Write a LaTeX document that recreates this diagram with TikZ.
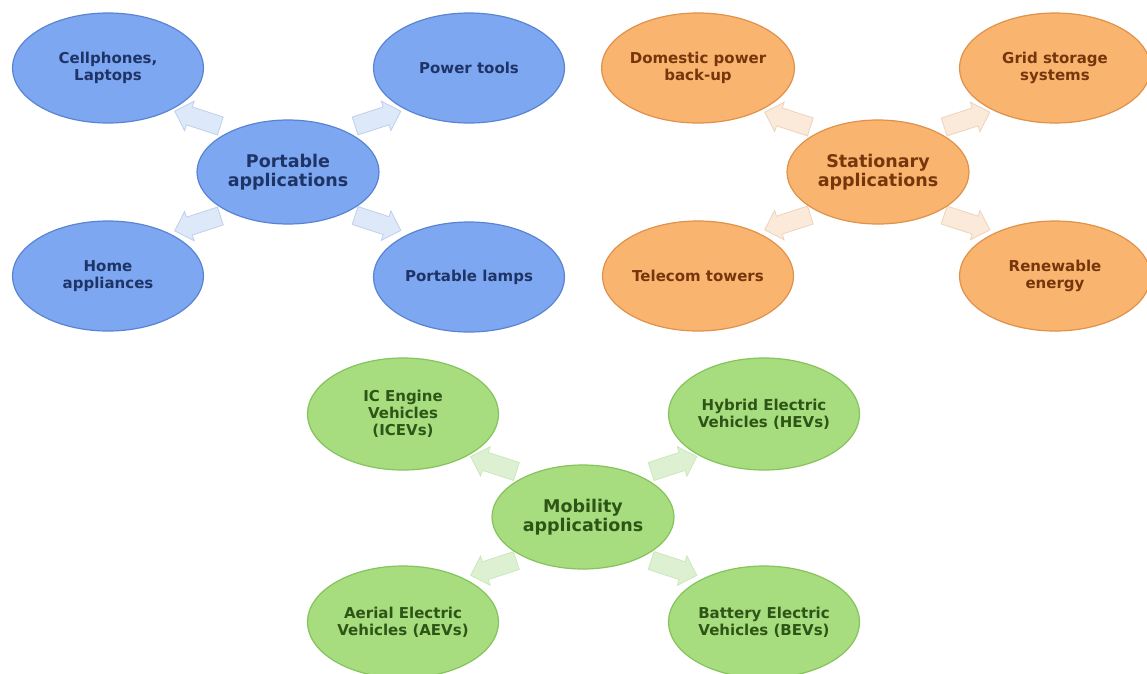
\documentclass[tikz,border=0pt]{standalone}
\usepackage{fontspec}
\setmainfont{DejaVu Sans}
\usetikzlibrary{shapes.geometric,shapes.arrows,calc}
\pgfdeclarelayer{bg}
\pgfsetlayers{bg,main}
\definecolor{bfill}{HTML}{7EA7F1}
\definecolor{bdraw}{HTML}{5A84D2}
\definecolor{btext}{HTML}{1E3466}
\definecolor{barr}{HTML}{DDE8F8}
\definecolor{barrd}{HTML}{BDD0EE}
\definecolor{ofill}{HTML}{F9B46F}
\definecolor{odraw}{HTML}{E0914A}
\definecolor{otext}{HTML}{76350A}
\definecolor{oarr}{HTML}{FBEADA}
\definecolor{oarrd}{HTML}{EED3BA}
\definecolor{gfill}{HTML}{A7DD7E}
\definecolor{gdraw}{HTML}{86C35C}
\definecolor{gtext}{HTML}{2D5517}
\definecolor{garr}{HTML}{DDF1D2}
\definecolor{garrd}{HTML}{CBE8BA}
\begin{document}
\begin{tikzpicture}[x=1pt,y=-1pt,
  outer/.style={ellipse,minimum width=191pt,minimum height=110pt,inner sep=0pt,line width=1.2pt,align=center,font=\fontsize{15}{17}\selectfont\bfseries},
  hub/.style={ellipse,minimum width=182pt,minimum height=104pt,inner sep=0pt,line width=1.2pt,align=center,font=\fontsize{17.5}{19.5}\selectfont\bfseries},
  bluen/.style={fill=bfill,draw=bdraw,text=btext},
  orangen/.style={fill=ofill,draw=odraw,text=otext},
  greenn/.style={fill=gfill,draw=gdraw,text=gtext},
  blockarrow/.style={single arrow,minimum height=48pt,inner xsep=0pt,inner ysep=9pt,single arrow head extend=6pt,single arrow head indent=0pt,line width=0.8pt,font=\fontsize{1}{1}\selectfont},
  bluea/.style={blockarrow,fill=barr,draw=barrd},
  orangea/.style={blockarrow,fill=oarr,draw=oarrd},
  greena/.style={blockarrow,fill=garr,draw=garrd}
]
\useasboundingbox (0,0) rectangle (1147,673);
\begin{pgfonlayer}{bg}
\fill[white] (0,0) rectangle (1147,673);
\end{pgfonlayer}

% Portable
\node[hub,bluen] (p) at (288,172) {Portable\\applications};
\node[outer,bluen] (p1) at (108,68) {Cellphones,\\Laptops};
\node[outer,bluen] (p2) at (469,68) {Power tools};
\node[outer,bluen] (p3) at (108,276) {Home\\appliances};
\node[outer,bluen] (p4) at (469,277) {Portable lamps};

% Stationary
\node[hub,orangen] (s) at (878,172) {Stationary\\applications};
\node[outer,orangen] (s1) at (698,68) {Domestic power\\back-up};
\node[outer,orangen] (s2) at (1055,68) {Grid storage\\systems};
\node[outer,orangen] (s3) at (698,276) {Telecom towers};
\node[outer,orangen] (s4) at (1055,276) {Renewable\\energy};

% Mobility
\node[hub,greenn] (m) at (583,517) {Mobility\\applications};
\node[outer,greenn,minimum height=112pt] (m1) at (403,414) {IC Engine\\Vehicles\\(ICEVs)};
\node[outer,greenn,minimum height=112pt] (m2) at (764,414) {Hybrid Electric\\Vehicles (HEVs)};
\node[outer,greenn,minimum height=112pt] (m3) at (403,622) {Aerial Electric\\Vehicles (AEVs)};
\node[outer,greenn,minimum height=112pt] (m4) at (764,622) {Battery Electric\\Vehicles (BEVs)};

\begin{pgfonlayer}{bg}
\node[bluea,rotate=162] (pa1) at ($(p)!0.5!(p1)+(4,0)$) {};
\node[bluea,rotate=18] (pa2) at ($(p)!0.5!(p2)+(-5,0)$) {};
\node[bluea,rotate=198] (pa3) at ($(p)!0.5!(p3)+(4,-2)$) {};
\node[bluea,rotate=-18] (pa4) at ($(p)!0.5!(p4)+(-5,-3)$) {};
\node[orangea,rotate=162] (sa1) at ($(s)!0.5!(s1)+(4,1)$) {};
\node[orangea,rotate=18] (sa2) at ($(s)!0.5!(s2)+(-4,1)$) {};
\node[orangea,rotate=198] (sa3) at ($(s)!0.5!(s3)+(4,-3)$) {};
\node[orangea,rotate=-18] (sa4) at ($(s)!0.5!(s4)+(-4,-3)$) {};
\node[greena,rotate=162] (ma1) at ($(m)!0.5!(m1)+(5,0)$) {};
\node[greena,rotate=18] (ma2) at ($(m)!0.5!(m2)+(-4,0)$) {};
\node[greena,rotate=198] (ma3) at ($(m)!0.5!(m3)+(5,-3)$) {};
\node[greena,rotate=-18] (ma4) at ($(m)!0.5!(m4)+(-4,-3)$) {};
\end{pgfonlayer}
\end{tikzpicture}
\end{document}
